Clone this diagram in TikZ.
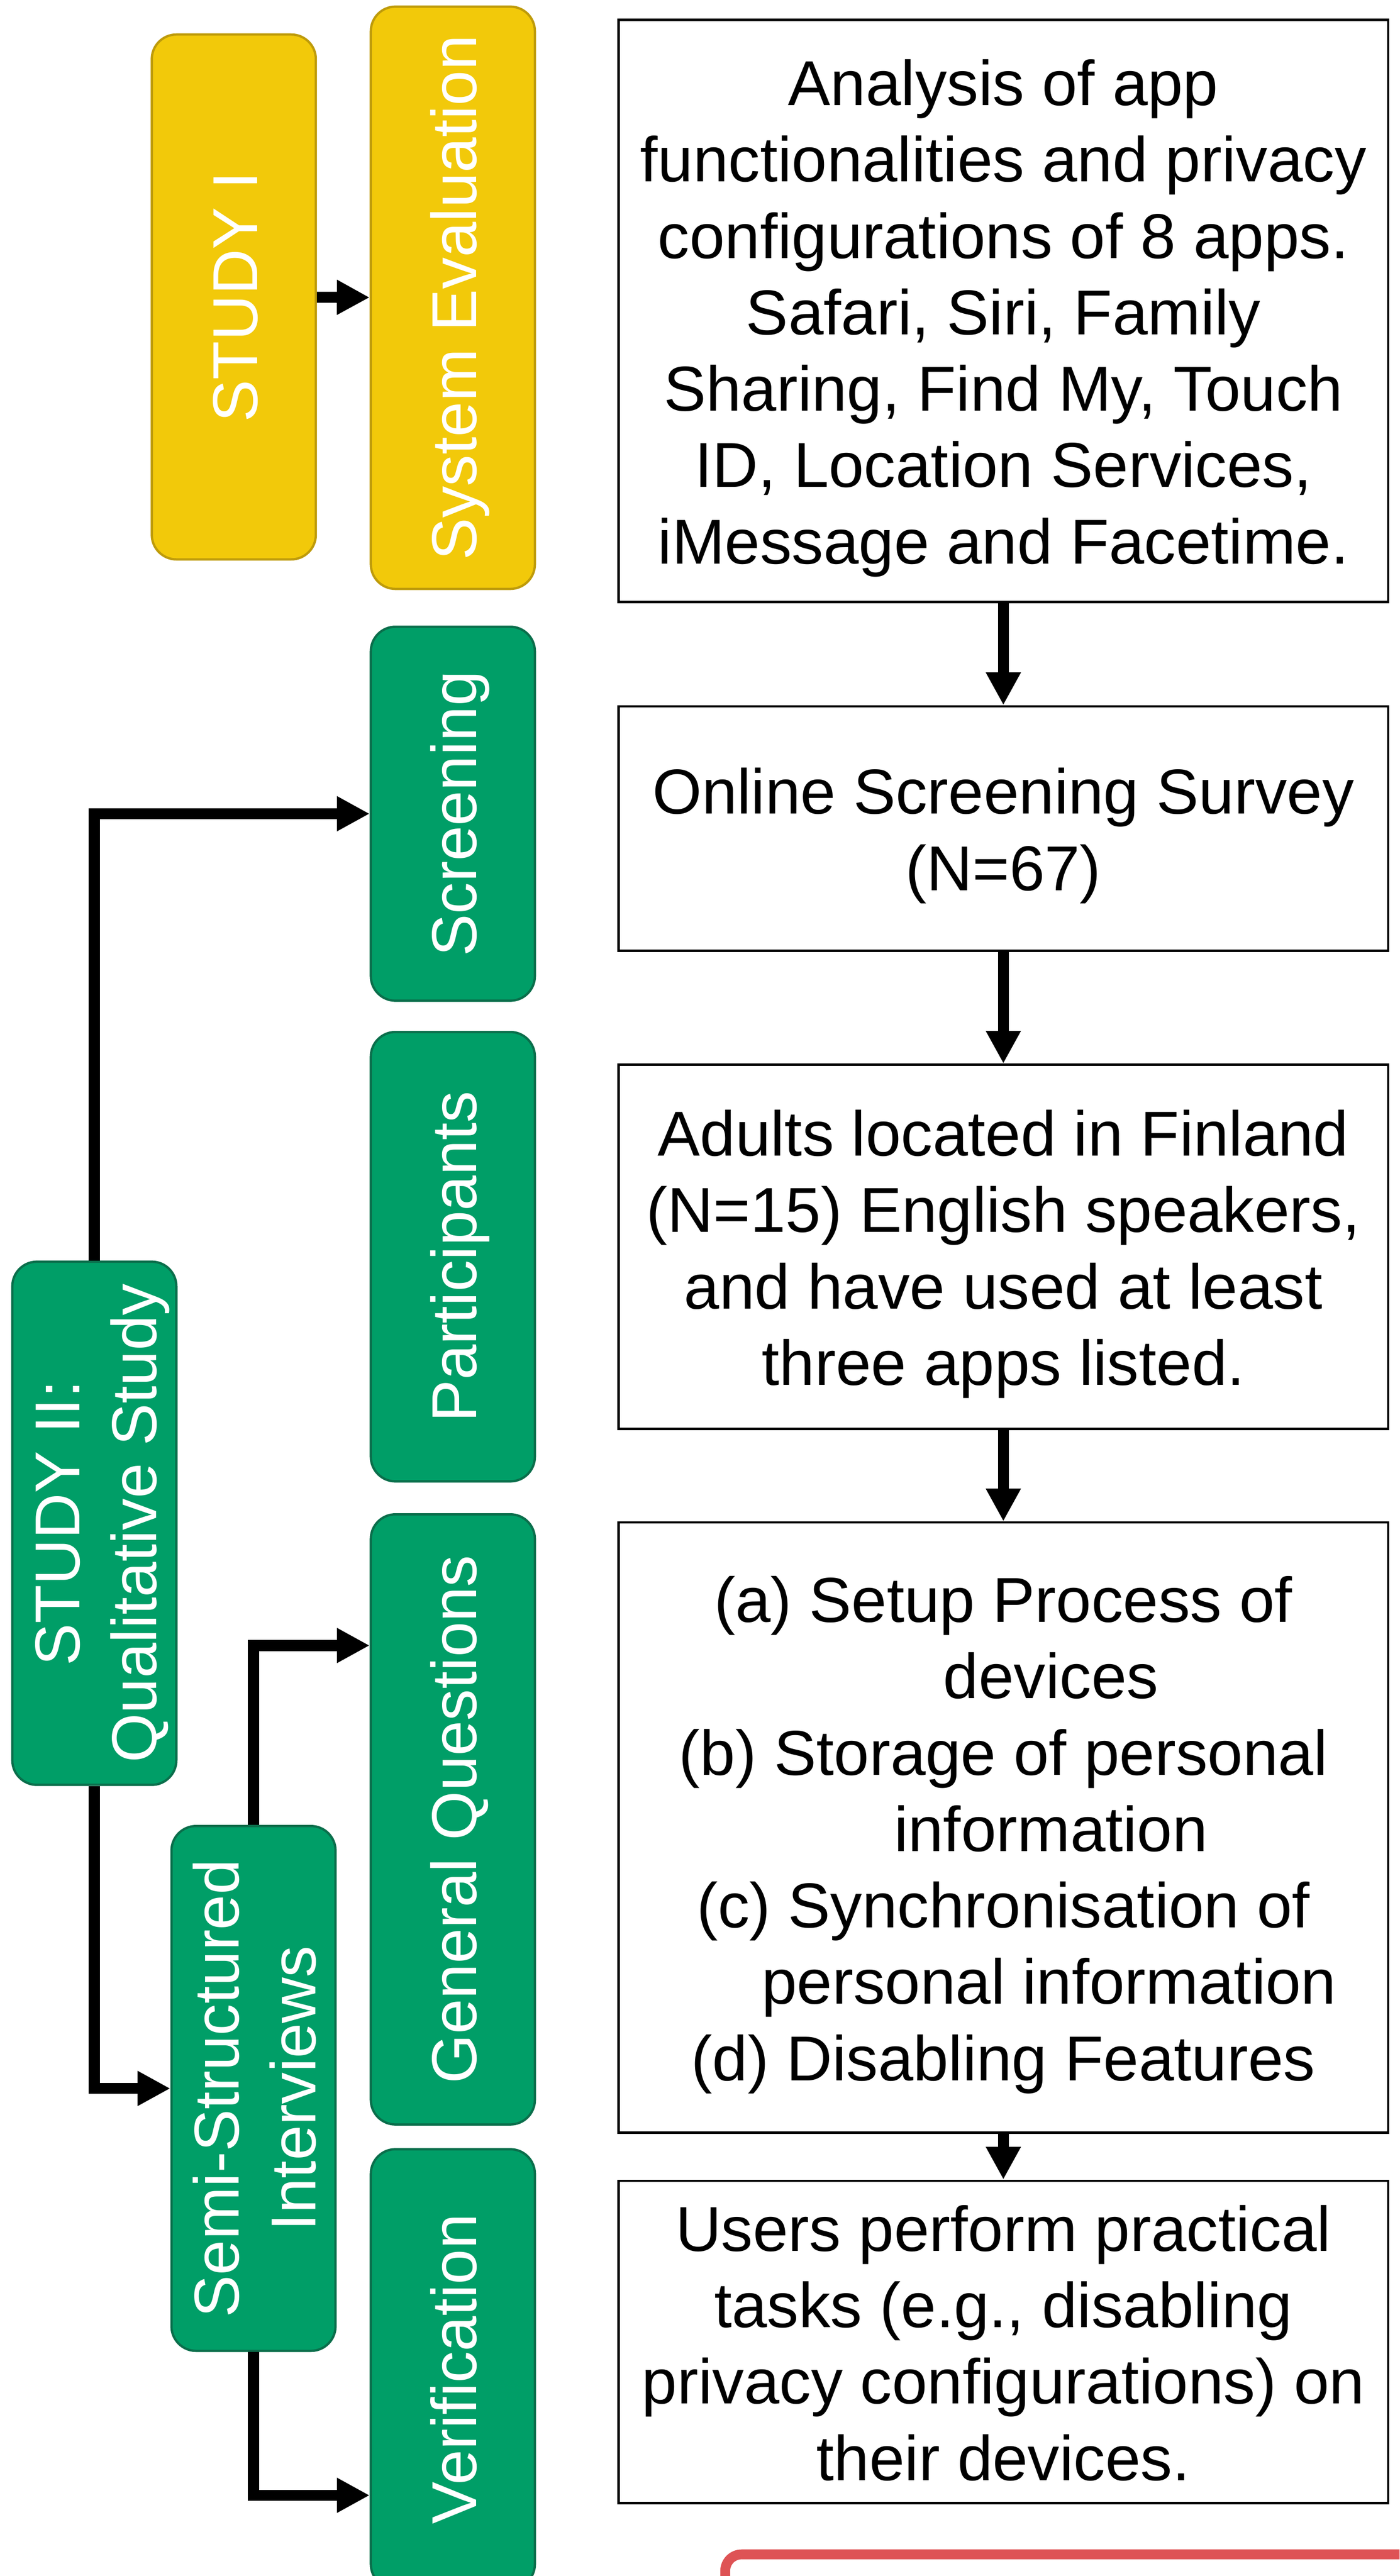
\documentclass[tikz,border=0pt]{standalone}
\usepackage{fontspec}
\setmainfont{Liberation Sans}
\usepackage{graphicx}
\usetikzlibrary{arrows.meta}
\definecolor{studygold}{RGB}{242,201,10}
\definecolor{studygoldline}{RGB}{190,155,10}
\definecolor{studygreen}{RGB}{0,158,103}
\definecolor{studygreenline}{RGB}{10,110,75}
\definecolor{framered}{RGB}{222,83,85}
\newcommand{\stacklines}[1]{\begin{tabular}{@{}c@{}}\rule{0pt}{24.4pt}#1\end{tabular}}
\newcommand{\vtext}[1]{\rotatebox{90}{\stacklines{#1}}}
\begin{document}
\begin{tikzpicture}[x=0.02cm,y=-0.02cm,
  every node/.style={font=\fontsize{22}{26.5}\selectfont},
  tag/.style={draw=#1line,fill=#1,text=white,rounded corners=0.3cm,line width=0.8pt,minimum width=2cm,inner ysep=0pt,inner xsep=-3pt},
  stagebox/.style={draw,line width=0.8pt,minimum width=9.38cm,inner sep=0pt},
  flow/.style={line width=3.8pt,-{Triangle[length=0.4cm,width=0.4cm]}}]
\useasboundingbox (0,0) rectangle (853,1570.2);
\clip (0,0) rectangle (853,1570.2);
% left column: study phases
\node[tag=studygold,minimum height=6.4cm] (study1) at (142.5,181) {\vtext{STUDY I}};
\node[tag=studygreen,minimum height=6.38cm] (study2) at (57.5,928.5) {\vtext{STUDY II:\\Qualitative Study}};
\node[tag=studygreen,minimum height=6.4cm] (semi) at (154.5,1273) {\vtext{Semi-Structured\\Interviews}};
% middle column: steps
\node[tag=studygold,minimum height=7.1cm] (syseval) at (276,181.5) {\vtext{System Evaluation}};
\node[tag=studygreen,minimum height=4.56cm] (screen) at (276,496) {\vtext{Screening}};
\node[tag=studygreen,minimum height=5.48cm] (partic) at (276,766) {\vtext{Participants}};
\node[tag=studygreen,minimum height=7.44cm] (genq) at (276,1109) {\vtext{General Questions}};
\node[tag=studygreen,minimum height=5.36cm] (verif) at (276,1444) {\vtext{Verification}};
% right column: descriptions
\node[stagebox,minimum height=7.1cm] (apps) at (611.5,189.5) {\stacklines{Analysis of app\\functionalities and privacy\\configurations of 8 apps.\\Safari, Siri, Family\\Sharing, Find My, Touch\\ID, Location Services,\\iMessage and Facetime.}};
\node[stagebox,minimum height=2.98cm] (survey) at (611.5,505) {\stacklines{Online Screening Survey\\(N=67)}};
\node[stagebox,minimum height=4.44cm] (adults) at (611.5,760) {\stacklines{Adults located in Finland\\(N=15) English speakers,\\and have used at least\\three apps listed.}};
\node[stagebox,minimum height=7.44cm] (topics) at (611.5,1114) {\stacklines{(a) Setup Process of\\\phantom{(a)\ }devices\\(b) Storage of personal\\\phantom{(b)\ }information\\(c) Synchronisation of\\\phantom{(c)\ }personal information\\(d) Disabling Features}};
\node[stagebox,minimum height=3.78cm] (tasks) at (611.5,1427.5) {\stacklines{Users perform practical\\tasks (e.g., disabling\\privacy configurations) on\\their devices.}};
% arrows
\draw[flow] (study1) -- (syseval);
\draw[flow] (apps) -- (survey);
\draw[flow] (survey) -- (adults);
\draw[flow] (adults) -- (topics);
\draw[flow] (topics) -- (tasks);
\draw[flow] (study2.north) |- (screen.west);
\draw[flow] (study2.south) |- (semi.west);
\path (genq.west) ++(0,-106) coordinate (gqin);
\draw[flow] (semi.north) |- (gqin);
\path (verif.west) ++(0,77) coordinate (vfin);
\draw[flow] (semi.south) |- (vfin);
\draw[framered,line width=0.12cm,rounded corners=0.2cm] (442,1557) rectangle (900,1700);
\end{tikzpicture}
\end{document}
